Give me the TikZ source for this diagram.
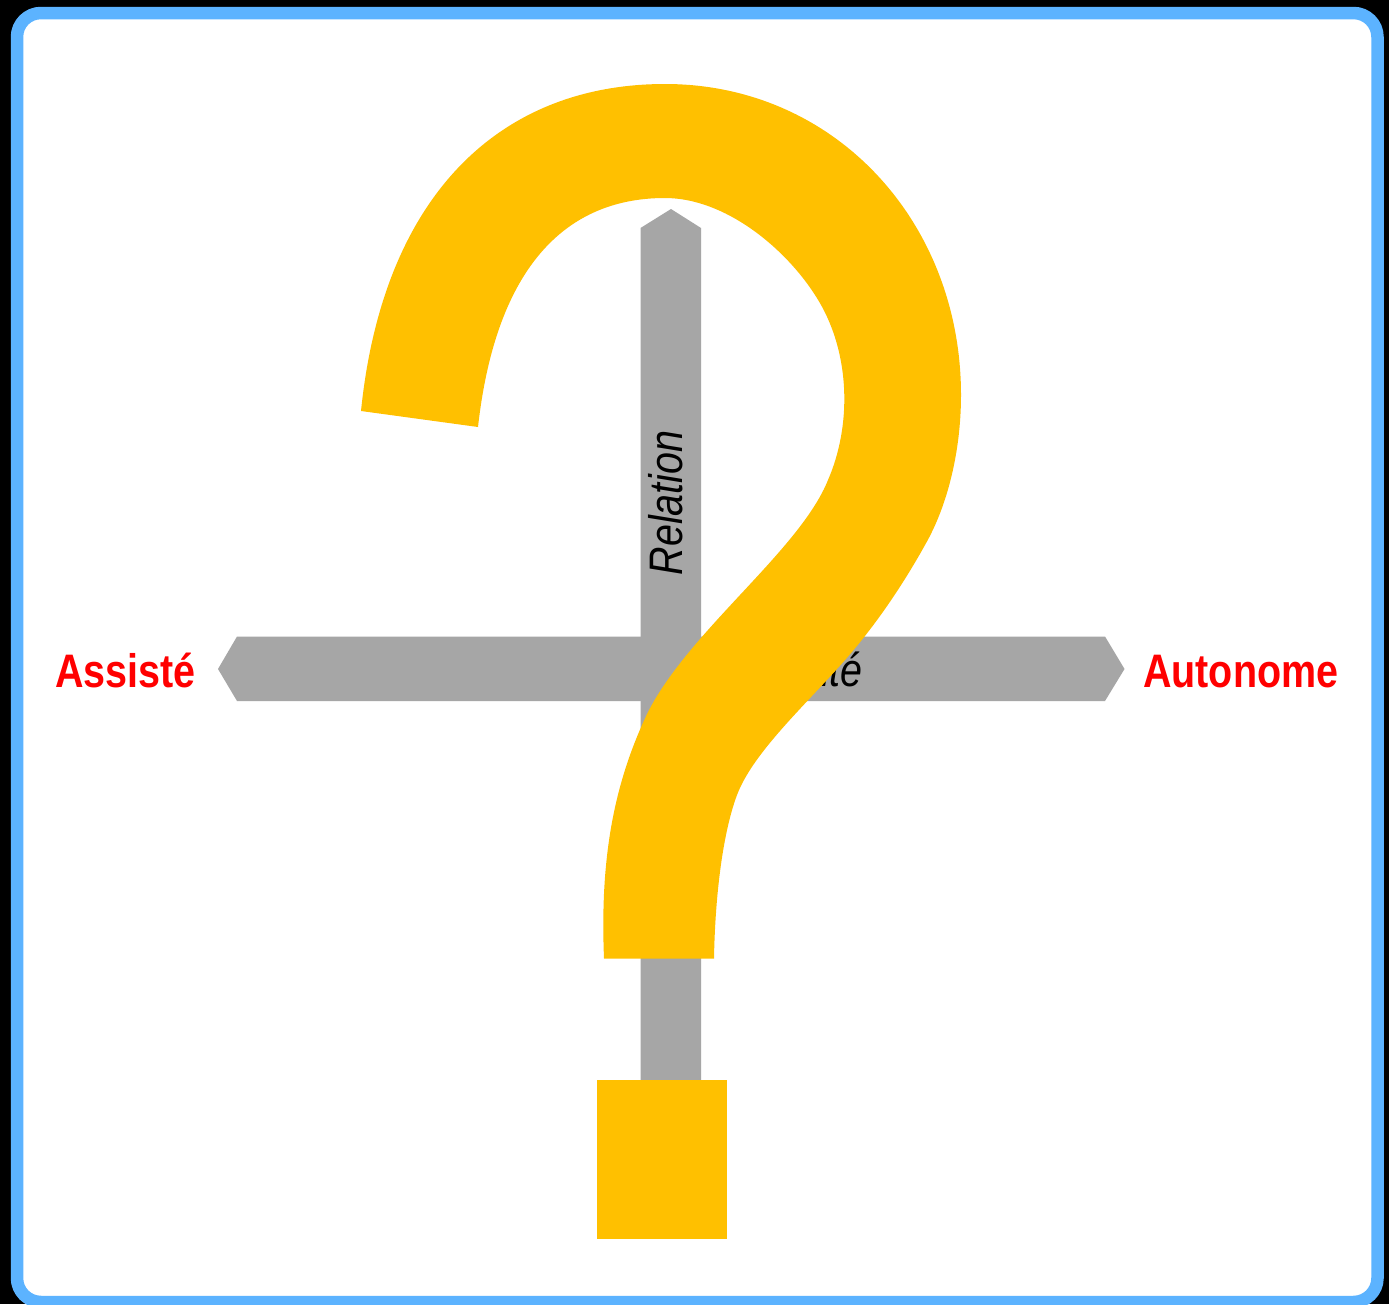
\documentclass[tikz,border=0pt]{standalone}
\usepackage{fontspec}
\setmainfont{Liberation Sans}
\newfontfamily\lblbold[FakeStretch=0.84]{Liberation Sans Bold}
\newfontfamily\lblital[FakeStretch=0.84]{Liberation Sans Italic}
\definecolor{framec}{HTML}{5CB3FF}
\definecolor{axisc}{HTML}{A6A6A6}
\definecolor{markc}{HTML}{FFC000}
\tikzset{
  pole/.style={text=red,font=\lblbold\fontsize{47}{47}\selectfont,inner sep=0pt},
  axistext/.style={text=black,font=\lblital\fontsize{47}{47}\selectfont,inner sep=0pt},
  axisshape/.style={fill=axisc,draw=none},
  markshape/.style={fill=markc,draw=none}
}
\begin{document}
\begin{tikzpicture}[x=1pt,y=-1pt]
\useasboundingbox (0,0) rectangle (1389,1304);
\fill[black] (0,0) rectangle (1389,1304);
\draw[line width=12.5pt,draw=framec,fill=white,rounded corners=24pt] (17,13) rectangle (1377.5,1302);
\fill[axisshape] (640.5,1150) -- (640.5,228) -- (671,209) -- (701,228) -- (701,1150) -- cycle;
\fill[axisshape] (218,669) -- (237,636.5) -- (1105,636.5) -- (1124.5,669) -- (1105,701) -- (237,701) -- cycle;
\node[axistext,rotate=90,anchor=center] (rel) at (665.5,503) {Relation};
\node[axistext,anchor=base east] (ite) at (863,686) {ité};
\node[pole,anchor=base west] (ass) at (55,687) {Assisté};
\node[pole,anchor=base east] (aut) at (1338.5,687) {Autonome};
\fill[markshape] (361,411)
  .. controls (383,195) and (500,84) .. (665,84)
  .. controls (835,84) and (961,222) .. (961,395)
  .. controls (961,450) and (948,505) .. (925,545)
  .. controls (900,590) and (870,633) .. (837,669)
  .. controls (800,710) and (752,755) .. (737,795)
  .. controls (722,835) and (715,900) .. (714,958.5)
  -- (604,958.5)
  .. controls (600,860) and (613,785) .. (648,712)
  .. controls (690,630) and (800,550) .. (828,480)
  .. controls (852,425) and (851,350) .. (815,295)
  .. controls (785,248) and (725,198) .. (665,198)
  .. controls (560,198) and (495,275) .. (478,427)
  -- cycle;
\fill[markshape] (596.5,1080) rectangle (726.5,1238.5);
\end{tikzpicture}
\end{document}
